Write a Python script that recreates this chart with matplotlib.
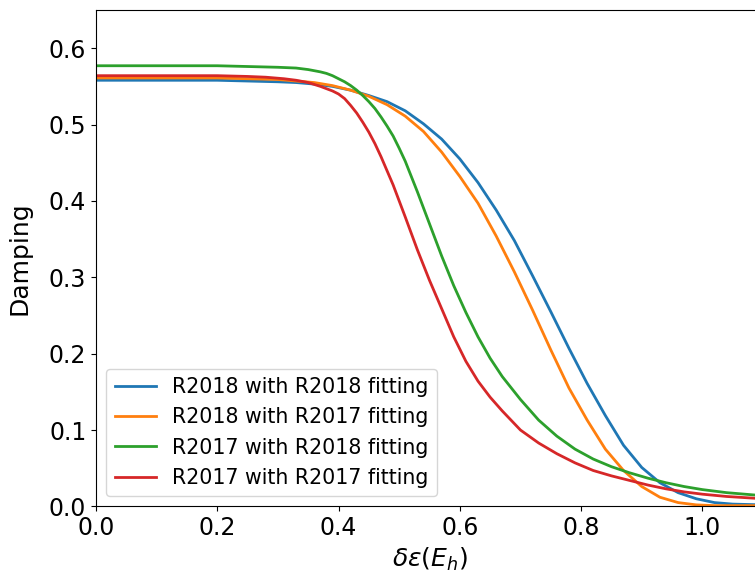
import matplotlib
matplotlib.use("Agg")
import matplotlib.pyplot as plt

labels = ["R2018 with R2018 fitting", "R2018 with R2017 fitting",
          "R2017 with R2018 fitting", "R2017 with R2017 fitting"]

x_blue = [0.00, 0.10, 0.20, 0.25, 0.30, 0.33, 0.36, 0.39, 0.42, 0.45, 0.48, 0.51, 0.54,
          0.57, 0.60, 0.63, 0.66, 0.69, 0.72, 0.75, 0.78, 0.81, 0.84, 0.87, 0.90, 0.93,
          0.96, 0.99, 1.02, 1.05, 1.10]
y_blue = [0.558, 0.558, 0.558, 0.557, 0.556, 0.555, 0.553, 0.550, 0.545, 0.538, 0.530, 0.518, 0.501,
          0.481, 0.455, 0.424, 0.388, 0.348, 0.302, 0.255, 0.207, 0.161, 0.119, 0.080, 0.051, 0.031,
          0.018, 0.010, 0.005, 0.003, 0.002]

x_orange = [0.00, 0.10, 0.20, 0.25, 0.30, 0.33, 0.36, 0.39, 0.42, 0.45, 0.48, 0.51, 0.54,
            0.57, 0.60, 0.63, 0.66, 0.69, 0.72, 0.75, 0.78, 0.81, 0.84, 0.87, 0.90, 0.93,
            0.96, 0.99, 1.02, 1.10]
y_orange = [0.561, 0.561, 0.561, 0.560, 0.559, 0.557, 0.555, 0.551, 0.545, 0.537, 0.526, 0.511, 0.491,
            0.464, 0.432, 0.397, 0.354, 0.307, 0.257, 0.205, 0.155, 0.113, 0.075, 0.047, 0.026, 0.012,
            0.005, 0.002, 0.001, 0.001]

x_green = [0.00, 0.10, 0.20, 0.25, 0.30, 0.33, 0.35, 0.37, 0.38, 0.39, 0.40, 0.41, 0.42, 0.43,
           0.44, 0.45, 0.46, 0.47, 0.48, 0.49, 0.50, 0.51, 0.53, 0.55, 0.57, 0.59, 0.61, 0.63,
           0.65, 0.67, 0.70, 0.73, 0.76, 0.79, 0.82, 0.85, 0.88, 0.91, 0.94, 0.97, 1.00, 1.04,
           1.10]
y_green = [0.577, 0.577, 0.577, 0.576, 0.575, 0.574, 0.572, 0.569, 0.567, 0.564, 0.560, 0.556, 0.551,
           0.545, 0.538, 0.530, 0.521, 0.510, 0.498, 0.485, 0.469, 0.452, 0.412, 0.370, 0.328, 0.289,
           0.254, 0.222, 0.194, 0.170, 0.140, 0.113, 0.092, 0.075, 0.062, 0.052, 0.044, 0.037, 0.031,
           0.026, 0.022, 0.018, 0.014]

x_red = [0.00, 0.10, 0.20, 0.25, 0.28, 0.31, 0.33, 0.35, 0.37, 0.38, 0.39, 0.40, 0.41, 0.42,
         0.43, 0.44, 0.45, 0.46, 0.47, 0.49, 0.51, 0.53, 0.55, 0.57, 0.59, 0.61, 0.63, 0.65,
         0.67, 0.70, 0.73, 0.76, 0.79, 0.82, 0.85, 0.88, 0.91, 0.94, 0.97, 1.00, 1.04, 1.10]
y_red = [0.564, 0.564, 0.564, 0.563, 0.562, 0.560, 0.558, 0.555, 0.550, 0.547, 0.544, 0.540, 0.534,
         0.525, 0.515, 0.503, 0.490, 0.475, 0.458, 0.421, 0.379, 0.336, 0.296, 0.259, 0.222, 0.190,
         0.164, 0.143, 0.125, 0.100, 0.083, 0.069, 0.057, 0.047, 0.040, 0.034, 0.028, 0.023, 0.019,
         0.016, 0.013, 0.010]

colors = ["#1f77b4", "#ff7f0e", "#2ca02c", "#d62728"]

fig = plt.figure(figsize=(7.55, 5.76), dpi=100)
ax = fig.add_axes([96/755, 69.6/576, 667/755, 496.4/576])

for xs, ys, c, lab in zip([x_blue, x_orange, x_green, x_red],
                          [y_blue, y_orange, y_green, y_red], colors, labels):
    ax.plot(xs, ys, color=c, lw=2, label=lab)

ax.set_xlim(0, 1.1)
ax.set_ylim(0, 0.65)
ax.set_xticks([0.0, 0.2, 0.4, 0.6, 0.8, 1.0])
ax.set_yticks([0.0, 0.1, 0.2, 0.3, 0.4, 0.5, 0.6])
ax.tick_params(labelsize=17)
ax.set_xlabel(r"$\delta\varepsilon(E_h)$", fontsize=18)
ax.set_ylabel("Damping", fontsize=18, labelpad=12)
ax.legend(loc="lower left", fontsize=14.8)

fig.savefig("out.png", dpi=100)
